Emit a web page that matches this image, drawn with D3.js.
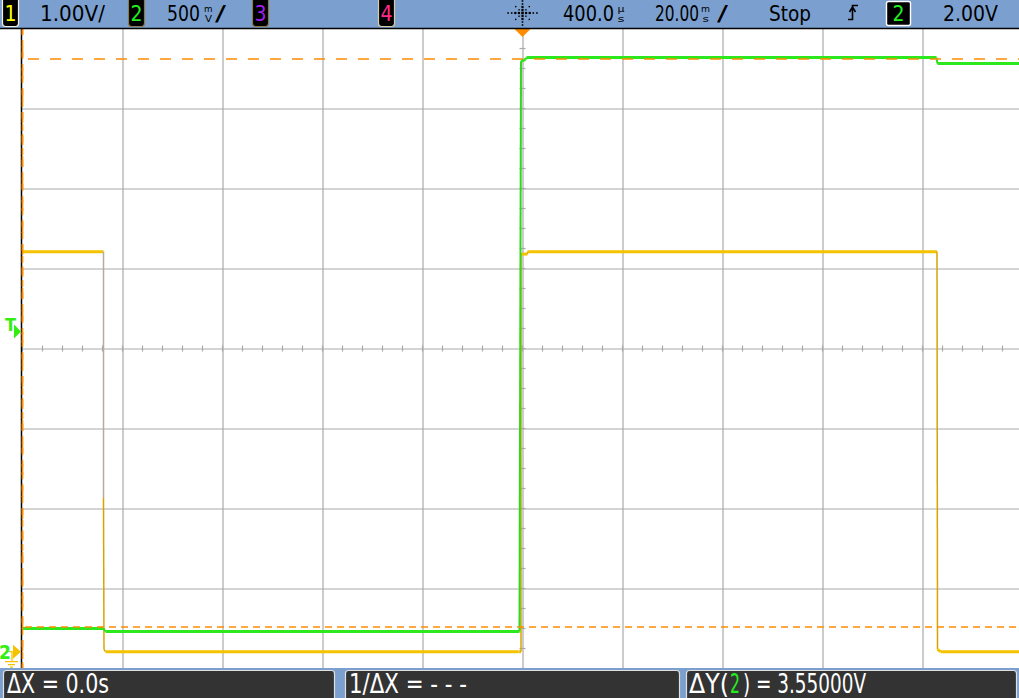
<!DOCTYPE html>
<html><head><meta charset="utf-8">
<script src="https://cdn.jsdelivr.net/npm/d3@7"></script>
<style>
html,body{margin:0;padding:0;background:#fff;overflow:hidden}
svg{display:block}
text{font-family:"Liberation Sans Narrow","DejaVu Sans Condensed","Liberation Sans",sans-serif}
</style></head><body>
<svg id="c" width="1019" height="698"></svg>
<script>
// ---- scope settings ----
const ch1VoltsPerDiv = 1.00;
const ch2VoltsPerDiv = 0.5;
const ch1Offset = 3.79;     // volts at screen centre
const ch2Offset = 1.894;
const timePerDiv = 20;      // ms
const delayMs = 0.4;        // ms (400.0 µs)
const triggerLevel = 2.00;  // V on channel 2
const cursorYVolts = [0.153, 3.703];   // channel 2 cursors, ΔY = 3.55 V
const cursorXTimes = [-99.6, -99.6];   // ΔX = 0

// ---- traces (time in ms, volts) ----
const ch1Times = [-99.6, -83.4, -83.4, -83.3, -83.0, -0.4, 0.1, 0.1, 1.4, 1.4, 83.3, 83.4, 84.0, 100.4];
const ch1Volts = [5.0,   5.0,   1.92,  0.03,  0.0,   0.0,  0.0, 4.97, 4.97, 5.0, 5.0, 0.03, 0.0, 0.0];
const ch2Times = [-99.6, -83.4, -83.0, -0.2, 0.1,  1.0,  1.2,    83.2,   83.4,  100.4];
const ch2Volts = [0.144, 0.144, 0.125, 0.125, 3.69, 3.70, 3.7125, 3.7125, 3.675, 3.675];

// ---- header / footer labels ----
const chanLabels = ["1", "2", "3", "4"];
const chanColors = ["#ffff00", "#22ee22", "#a020f0", "#ff2a8a"];
const headerTexts = ["1.00V/", "500", "400.0", "20.00", "Stop", "2.00V"];
const footerTexts = ["\u0394X = 0.0s", "1/\u0394X = - - -", "\u0394Y(", "2", ") = 3.55000V"];

const svg = d3.select("#c");
const W = 1019, H = 698;
const plotTop = 28, plotBot = 668, plotLeft = 22, plotRight = 1022;

const x = d3.scaleLinear().domain([delayMs - 5 * timePerDiv, delayMs + 5 * timePerDiv]).range([plotLeft + 0.5, plotRight + 0.5]);
const y1 = d3.scaleLinear().domain([ch1Offset - 4 * ch1VoltsPerDiv, ch1Offset + 4 * ch1VoltsPerDiv]).range([plotBot + 0.5, plotTop + 0.5]);
const y2 = d3.scaleLinear().domain([ch2Offset - 4 * ch2VoltsPerDiv, ch2Offset + 4 * ch2VoltsPerDiv]).range([plotBot + 0.5, plotTop + 0.5]);

svg.append("rect").attr("width", W).attr("height", H).attr("fill", "#fff");

// ---- grid via axes ----
const gridColor = "#a9a9a9";
const xDivs = d3.range(-4, 5).map(k => delayMs + k * timePerDiv);
const gx = svg.append("g").attr("transform", `translate(0,${plotTop})`)
  .call(d3.axisBottom(x).tickValues(xDivs).tickSize(plotBot - plotTop).tickFormat(""));
gx.select(".domain").remove();
gx.selectAll("line").attr("stroke", gridColor).attr("stroke-width", 1.2);

const yDivs = d3.range(-3, 4).map(k => ch1Offset + k * ch1VoltsPerDiv);
const gy = svg.append("g").attr("transform", `translate(${plotLeft},0)`)
  .call(d3.axisRight(y1).tickValues(yDivs).tickSize(W - plotLeft).tickFormat(""));
gy.select(".domain").remove();
gy.selectAll("line").attr("stroke", gridColor).attr("stroke-width", 1.2);

// minor ticks on centre lines
const minorX = d3.range(-25, 26).map(k => delayMs + k * timePerDiv / 5);
svg.append("g").selectAll("line").data(minorX).join("line")
  .attr("x1", d => x(d)).attr("x2", d => x(d))
  .attr("y1", y1(ch1Offset) - 3).attr("y2", y1(ch1Offset) + 3)
  .attr("stroke", gridColor).attr("stroke-width", 1.2);
const minorY = d3.range(-16, 17).map(k => ch1Offset + k * ch1VoltsPerDiv / 4);
svg.append("g").selectAll("line").data(minorY).join("line")
  .attr("x1", x(delayMs) - 3).attr("x2", x(delayMs) + 3)
  .attr("y1", d => y1(d)).attr("y2", d => y1(d))
  .attr("stroke", gridColor).attr("stroke-width", 1.2);

// left border
svg.append("line").attr("x1", 21.5).attr("x2", 21.5).attr("y1", plotTop).attr("y2", plotBot)
  .attr("stroke", "#000").attr("stroke-width", 1.5);

// ---- traces ----
function drawTrace(times, volts, ys, thickColor, thinColor, thinW, faintColor) {
  const pts = times.map((t, i) => [x(t), ys(volts[i])]);
  const isFlat = i => Math.abs(pts[i + 1][1] - pts[i][1]) < Math.abs(pts[i + 1][0] - pts[i][0]);
  const g = svg.append("g");
  for (let i = 0; i < pts.length - 1; i++) {
    const [xa, ya] = pts[i], [xb, yb] = pts[i + 1];
    const flat = isFlat(i);
    // upper part of a split edge (vertical, followed by another steep segment) is drawn faint
    const faint = faintColor && !flat && xa === xb && i + 2 < pts.length && !isFlat(i + 1);
    g.append("line").attr("x1", xa).attr("y1", ya).attr("x2", xb).attr("y2", yb)
      .attr("stroke", flat ? thickColor : (faint ? faintColor : thinColor))
      .attr("stroke-width", flat ? 3 : thinW)
      .attr("stroke-linecap", "butt");
  }
}
drawTrace(ch1Times, ch1Volts, y1, "#f5c200", "#d8a400", 1.5, "#b4ad9c");
drawTrace(ch2Times, ch2Volts, y2, "#2ee81e", "#2ed81e", 2);

// ---- cursors ----
const orange = "#ff8c00";
svg.append("line").attr("x1", plotLeft).attr("x2", W).attr("y1", y2(cursorYVolts[1])).attr("y2", y2(cursorYVolts[1]))
  .attr("stroke", orange).attr("stroke-width", 1.6).attr("stroke-dasharray", "11,11").attr("stroke-dashoffset", 16);
svg.append("line").attr("x1", plotLeft).attr("x2", W).attr("y1", y2(cursorYVolts[0])).attr("y2", y2(cursorYVolts[0]))
  .attr("stroke", orange).attr("stroke-width", 1.6).attr("stroke-dasharray", "7,5").attr("stroke-dashoffset", 9);
svg.append("line").attr("x1", x(cursorXTimes[0])).attr("x2", x(cursorXTimes[0])).attr("y1", plotTop).attr("y2", plotBot)
  .attr("stroke", orange).attr("stroke-width", 1.6).attr("stroke-dasharray", "11,11").attr("stroke-dashoffset", 4);
svg.append("line").attr("x1", x(cursorXTimes[1])).attr("x2", x(cursorXTimes[1])).attr("y1", plotTop).attr("y2", plotBot)
  .attr("stroke", orange).attr("stroke-width", 1.6).attr("stroke-dasharray", "7,5").attr("stroke-dashoffset", 0);

// trigger position marker (top)
const tx = x(delayMs);
svg.append("path").attr("d", `M${tx - 8},${plotTop + 1}L${tx + 8},${plotTop + 1}L${tx},${plotTop + 9}Z`).attr("fill", orange);

// trigger level marker (left)
const tly = y2(triggerLevel);
svg.append("text").attr("x", 5).attr("y", tly - 1).attr("font-size", 18).attr("font-weight", "bold")
  .attr("fill", "#33ee11").attr("font-family", "DejaVu Sans Mono").text("T");
svg.append("path").attr("d", `M14,${tly - 7}L21,${tly}L14,${tly + 7}Z`).attr("fill", "#33ee11");

// ground markers (left bottom)
const gy0 = y1(0);
svg.append("path").attr("d", `M13,${gy0 - 7}L21,${gy0}L13,${gy0 + 7}Z`).attr("fill", "#f5c200");
svg.append("path").attr("d", `M9,${gy0}L12,${gy0}L12,${gy0 + 10}M5,${gy0 + 10}L18,${gy0 + 10}M8,${gy0 + 13}L15,${gy0 + 13}M10,${gy0 + 15.5}L13,${gy0 + 15.5}`)
  .attr("stroke", "#f5c200").attr("stroke-width", 1.3).attr("fill", "none");
svg.append("text").attr("x", -1).attr("y", gy0 + 7.5).attr("font-size", 19).attr("font-weight", "bold")
  .attr("fill", "#33ee11").attr("font-family", "DejaVu Sans Mono").text("2");

// ---- header ----
const hdrBlue = "#7ba0cf";
svg.append("rect").attr("x", 0).attr("y", 0).attr("width", W).attr("height", 28).attr("fill", hdrBlue);
svg.append("line").attr("x1", 0).attr("x2", W).attr("y1", 28.5).attr("y2", 28.5).attr("stroke", "#000").attr("stroke-width", 1.5);

const boxX = [2, 128, 252, 378];
const boxBorders = ["#f4f0e0", "#8c7c4c", "#8c7c4c", "#d8cca8"];
chanLabels.forEach((c, i) => {
  svg.append("rect").attr("x", boxX[i] + 0.5).attr("y", -3).attr("width", 16).attr("height", 29.5).attr("rx", 3)
    .attr("fill", "#000").attr("stroke", boxBorders[i]).attr("stroke-width", 1.2);
  svg.append("text").attr("x", boxX[i] + 8.5).attr("y", 21).attr("text-anchor", "middle")
    .attr("font-size", 21).attr("fill", chanColors[i]).text(c);
});

// text condensed by a horizontal scale so it spans exactly w pixels
function fitText(s, x0, yb, w, size, col = "#000") {
  const g = svg.append("g");
  const t = g.append("text").attr("x", 0).attr("y", 0).attr("font-size", size).attr("fill", col).text(s);
  const nat = t.node().getComputedTextLength() || w;
  g.attr("transform", `translate(${x0},${yb}) scale(${w / nat},1)`);
}
fitText(headerTexts[0], 40, 21, 65, 21);
fitText(headerTexts[1], 167, 21, 33, 21);
fitText("m", 204, 11.5, 8.5, 9);
fitText("V", 205, 21.5, 7, 9);
fitText("/", 215, 21, 11, 21);
fitText(headerTexts[2], 563, 21, 51, 21);
fitText("\u00b5", 617.5, 11.5, 7, 9);
fitText("s", 617.5, 21.5, 7, 9);
fitText(headerTexts[3], 655, 21, 44, 21);
fitText("m", 701, 11.5, 9, 9);
fitText("s", 702.5, 21.5, 6.5, 9);
fitText("/", 717, 21, 11, 21);
fitText(headerTexts[4], 769, 21, 42, 21);
fitText(headerTexts[5], 943, 21, 55, 21);

// rising-edge trigger symbol
svg.append("path").attr("d", "M848,19.5H852.5V5.5H858M852.5,7L849.5,12M852.5,7L855.5,12")
  .attr("stroke", "#000").attr("stroke-width", 1.6).attr("fill", "none");
// trigger source box
svg.append("rect").attr("x", 886.5).attr("y", 1.5).attr("width", 24).attr("height", 24).attr("rx", 2)
  .attr("fill", "#000").attr("stroke", "#fff").attr("stroke-width", 1.4);
svg.append("text").attr("x", 898.5).attr("y", 21).attr("text-anchor", "middle").attr("font-size", 21)
  .attr("fill", "#22ee22").text("2");

// Agilent spark logo
const logo = svg.append("g").attr("transform", `translate(${tx},13)`);
const sparkDots = [];
[1, 2, 3, 4].forEach(r => {
  [[1, 0], [-1, 0], [0, 1], [0, -1]].forEach(([a, b]) => sparkDots.push([a * r * 3.6, b * r * 3.0, r <= 2 ? 2.2 : 1.6]));
});
[1, 2].forEach(r => {
  [[1, 1], [-1, 1], [1, -1], [-1, -1]].forEach(([a, b]) => sparkDots.push([a * r * 3.4, b * r * 3.2, 1.4]));
});
sparkDots.push([0, 0, 2.6]);
logo.selectAll("rect").data(sparkDots).join("rect")
  .attr("x", d => d[0] - d[2] / 2).attr("y", d => d[1] - d[2] / 2)
  .attr("width", d => d[2]).attr("height", d => d[2]).attr("fill", "#000");

// ---- footer ----
svg.append("rect").attr("x", 0).attr("y", 668).attr("width", W).attr("height", 30).attr("fill", hdrBlue);
const fBoxes = [[3, 331], [345, 334], [686, 330]];
fBoxes.forEach(([bx, bw]) => {
  svg.append("rect").attr("x", bx + 0.5).attr("y", 670.5).attr("width", bw).attr("height", 32).attr("rx", 3)
    .attr("fill", "#333").attr("stroke", "#e0e0e0").attr("stroke-width", 1.2);
});
function fgroup(parts) {
  const t = svg.append("text").attr("font-size", 26);
  parts.forEach(([s, x0, w, col]) => {
    t.append("tspan").attr("x", x0).attr("y", 693).attr("fill", col)
      .attr("textLength", w).attr("lengthAdjust", "spacingAndGlyphs").text(s);
  });
}
fgroup([[footerTexts[0], 7, 102, "#fff"]]);
fgroup([[footerTexts[1], 349, 118, "#fff"]]);
fgroup([[footerTexts[2], 689, 40, "#fff"], [footerTexts[3], 730, 10, "#22ee22"], [footerTexts[4], 743, 123, "#fff"]]);
</script></body></html>
